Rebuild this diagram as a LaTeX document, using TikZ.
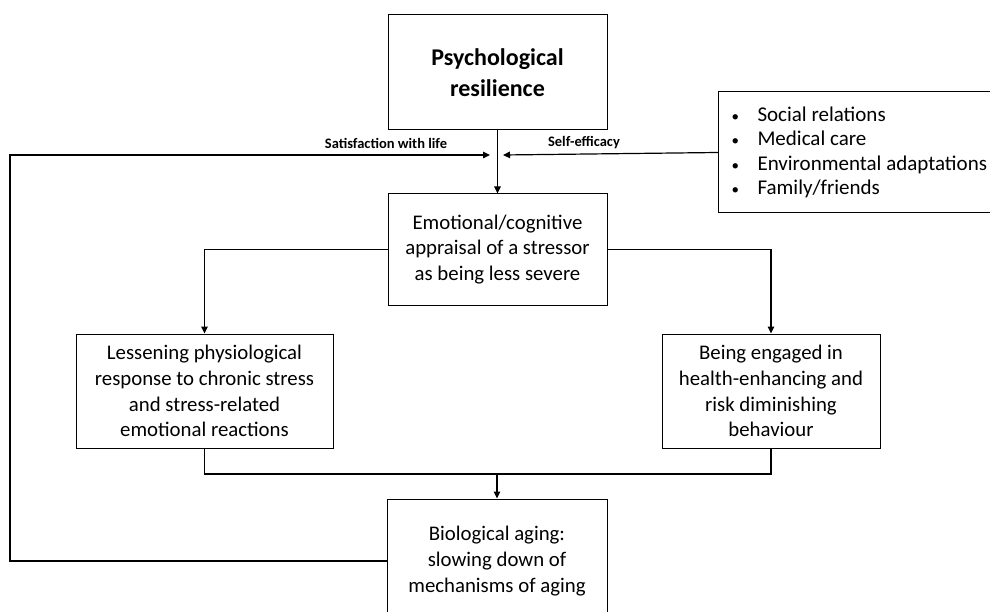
\documentclass[tikz,border=0pt]{standalone}
\usepackage{fontspec}
\setmainfont{Carlito}
\usetikzlibrary{arrows.meta,positioning}
\tikzset{
  box/.style   = {draw, line width=1pt, align=center, inner sep=0pt,
                  font=\fontsize{20.8}{25.8}\selectfont},
  wire/.style  = {line width=1.2pt},
  arr/.style   = {wire, -{Triangle[length=7pt,width=6.5pt]}},
  lab/.style   = {font=\bfseries\fontsize{14.5}{16}\selectfont, inner sep=1pt},
}
\newcommand{\itm}[1]{\makebox[26pt][l]{\fontsize{15}{15}\selectfont\textbullet}#1}

\begin{document}
\begin{tikzpicture}[x=1pt,y=-1pt]
  \clip (0,0) rectangle (990,612);
  \fill[white] (0,0) rectangle (990,612);
  % boxes
  \node[box, minimum width=219pt, minimum height=115pt, font=\bfseries\fontsize{24}{31}\selectfont]
    (psych) at (497.5,72.5) {Psychological\\resilience};
  \node[box, minimum width=219pt, minimum height=111pt]
    (appraisal) at (497.5,249.5) {Emotional/cognitive\\appraisal of a stressor\\as being less severe};
  \node[box, minimum width=257pt, minimum height=114pt]
    (lessen) at (204.5,391) {Lessening physiological\\response to chronic stress\\and stress-related\\emotional reactions};
  \node[box, minimum width=218pt, minimum height=114pt]
    (engaged) at (771,391) {Being engaged in\\health-enhancing and\\risk diminishing\\behaviour};
  \node[box, minimum width=220pt, minimum height=124pt]
    (aging) at (497,561) {Biological aging:\\slowing down of\\mechanisms of aging};
  \node[box, anchor=west, minimum width=282pt, minimum height=121pt, align=flush left,
        text width=256pt, inner xsep=13pt, font=\fontsize{21}{24.5}\selectfont]
    (factors) at (718,152.5) {\itm{Social relations}\\\itm{Medical care}\\\itm{Environmental adaptations}\\\itm{Family/friends}};

  % connectors
  \coordinate (sat) at (490,155);
  \coordinate (eff) at (503,155);
  \coordinate (corner) at (10,155);
  \coordinate (join) at (497,474);
  \draw[arr] (psych.south) -- (appraisal.north);
  \draw[arr] (appraisal.west) -| (lessen.north);
  \draw[arr] (appraisal.east) -| (engaged.north);
  \draw[wire] (lessen.south) |- (join) -| (engaged.south);
  \draw[arr] (join) -- (aging.north);
  \draw[arr] (aging.west) -| (corner) -- (sat);
  \draw[arr] (factors.west) -- (eff);
  \node[lab] (satlab) at (386,143) {Satisfaction with life};
  \node[lab] (efflab) at (584,143) {Self-efficacy};
\end{tikzpicture}
\end{document}
